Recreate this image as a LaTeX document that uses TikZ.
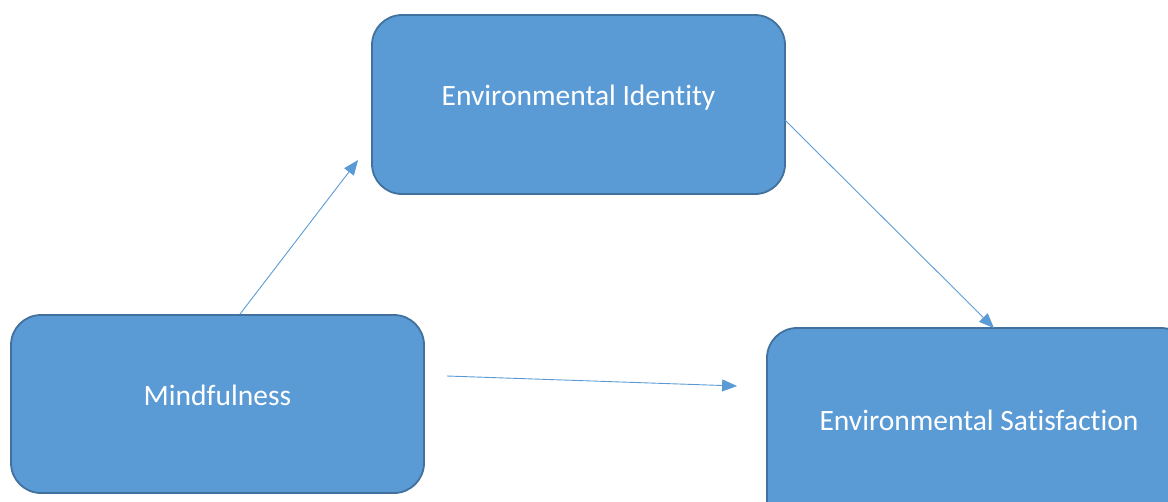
\documentclass[tikz,border=0pt]{standalone}
\usepackage{fontspec}
\setmainfont[Ligatures=CommonOff]{Carlito}
\usetikzlibrary{arrows.meta,calc}
\definecolor{boxfill}{HTML}{5B9BD5}
\definecolor{boxline}{HTML}{41719C}
\definecolor{arrowc}{HTML}{5B9BD5}
\tikzset{
  box/.style={draw=boxline, fill=boxfill, line width=1.8pt, rounded corners=30pt, inner sep=0pt},
  lbl/.style={text=white, font=\fontsize{29.5}{34}\selectfont, inner sep=0pt},
  conn/.style={draw=arrowc, line width=0.9pt, -{Triangle[length=15pt,width=12pt]}}
}
\begin{document}
\begin{tikzpicture}[x=1pt,y=-1pt]
\useasboundingbox (0,0) rectangle (1168,501);
\node[box, minimum width=413pt, minimum height=179pt] (ident) at (578.5,104.5) {};
\node[box, minimum width=413pt, minimum height=178pt] (mind) at (217.5,404) {};
\node[box, minimum width=424pt, minimum height=202pt] (sat) at (979,429) {};
\node[lbl] (identl) at ($(ident.center)+(0,-7)$) {Environmental Identity};
\node[lbl] (mindl) at ($(mind.center)+(0,-9)$) {Mindfulness};
\node[lbl] (satl) at ($(sat.center)+(0,-9)$) {Environmental Satisfaction};
\draw[conn] ($(mind.north)+(22.5,0)$) -- ($(ident.west)+(-13,55.5)$);
\draw[conn] ($(ident.east)+(-1,15.5)$) -- ($(sat.north)+(15,1)$);
\draw[conn] ($(mind.east)+(22,-28)$) -- ($(sat.west)+(-29,-43)$);
\end{tikzpicture}
\end{document}
